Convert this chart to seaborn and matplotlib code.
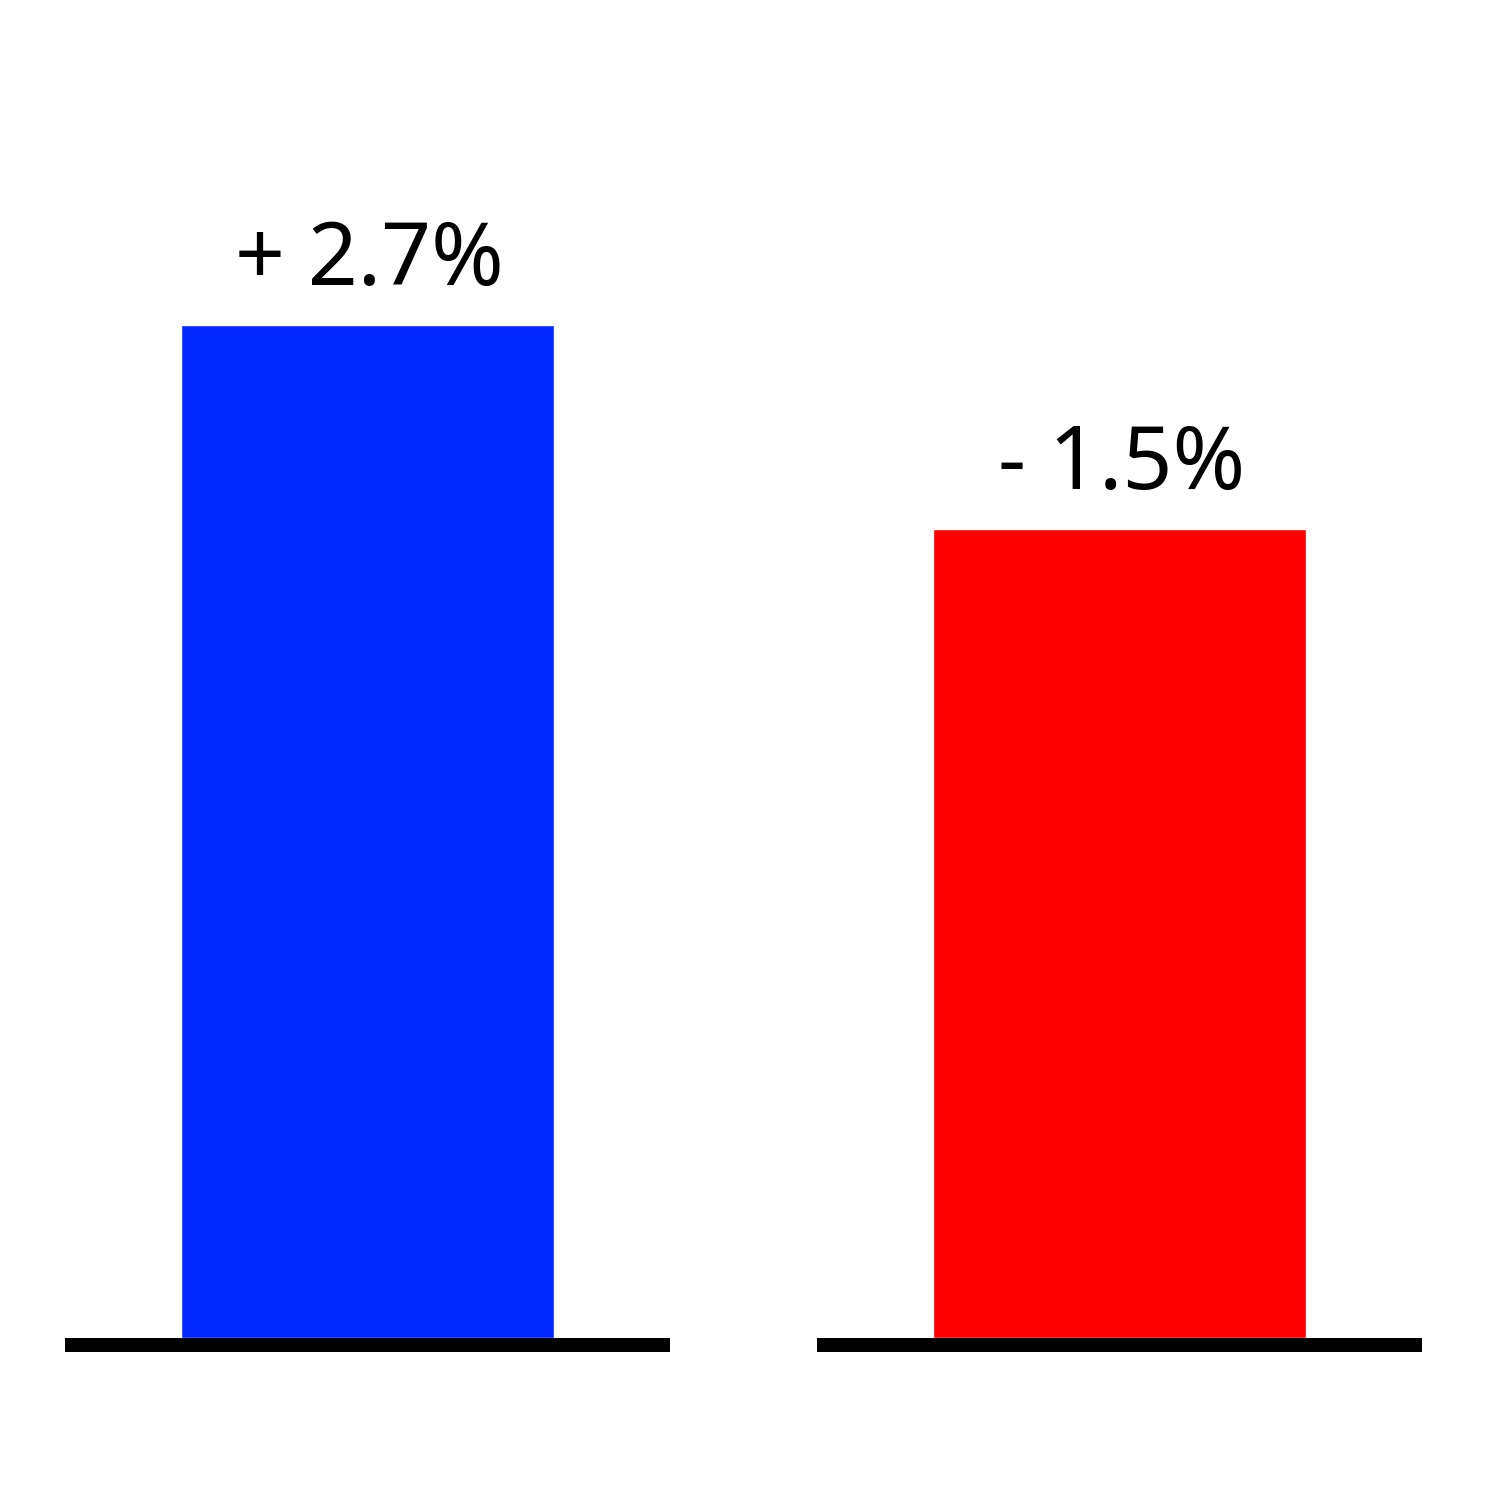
import numpy as np
import pandas as pd
from matplotlib import pyplot as plt
import seaborn as sns

# bar heights (arbitrary units), labels shown above the bars
groups = ['A', 'B']
heights = [10.13, 8.09]
labels = ['+ 2.7%', '- 1.5%']
colors = ['#0028FF', '#FF0000']

df = pd.DataFrame({'group': groups, 'height': heights})

sns.set_theme(style='white')
plt.rcParams['font.family'] = ['Noto Sans', 'DejaVu Sans']

fig = plt.figure(figsize=(15, 15), dpi=100)
ax = fig.add_axes([0, 0, 1, 1])
sns.barplot(data=df, x='group', y='height', hue='group', palette=colors,
            width=0.496, saturation=1, legend=False, ax=ax)

# black base line under each bar
for i in range(len(groups)):
    ax.plot([i - 0.402, i + 0.402], [-0.07, -0.07], color='black', lw=10.08,
            solid_capstyle='butt')

for i, (h, t) in enumerate(zip(heights, labels)):
    ax.annotate(t, xy=(i, h), xytext=(1.5, 29), textcoords='offset points',
                ha='center', va='baseline', fontsize=63, color='black')

ax.set_xlim(-0.4887, 1.506)
ax.set_ylim(-1.62, 13.38)
ax.axis('off')

fig.savefig('out.png', dpi=100, facecolor='white')
